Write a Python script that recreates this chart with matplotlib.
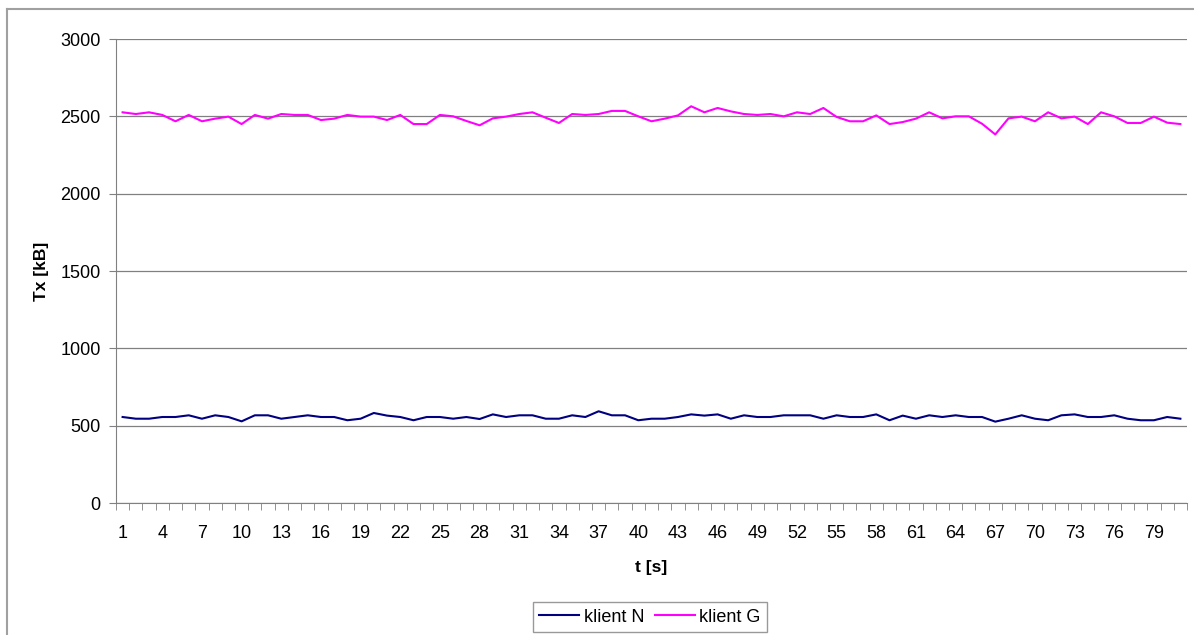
import numpy as np
import matplotlib.pyplot as plt
from matplotlib.lines import Line2D

plt.rcParams['font.family'] = ['Liberation Sans', 'DejaVu Sans']

# Tx v kB za sekundu
t = list(range(1, 82))
klient_n = [556, 545, 545, 556, 556, 567, 545, 567, 556, 528,
            567, 567, 545, 556, 567, 556, 556, 535, 545, 582,
            565, 556, 535, 556, 556, 545, 556, 543, 573, 556,
            567, 567, 545, 545, 567, 556, 593, 567, 567, 535,
            545, 545, 556, 573, 565, 573, 545, 567, 556, 556,
            567, 567, 567, 545, 567, 556, 556, 573, 535, 565,
            545, 567, 556, 567, 556, 556, 526, 545, 567, 545,
            535, 567, 573, 556, 556, 567, 545, 535, 535, 556,
            545]
klient_g = [2526, 2515, 2526, 2509, 2468, 2509, 2468, 2485, 2498, 2450,
            2509, 2485, 2515, 2509, 2509, 2476, 2485, 2509, 2498, 2498,
            2476, 2509, 2450, 2450, 2509, 2500, 2470, 2442, 2487, 2498,
            2515, 2526, 2491, 2457, 2515, 2509, 2515, 2535, 2535, 2500,
            2468, 2485, 2506, 2565, 2526, 2554, 2532, 2515, 2509, 2515,
            2500, 2526, 2515, 2554, 2496, 2468, 2468, 2506, 2450, 2463,
            2485, 2526, 2487, 2500, 2500, 2452, 2383, 2487, 2498, 2468,
            2526, 2487, 2498, 2450, 2526, 2500, 2457, 2457, 2498, 2459,
            2450]
y_ticks = [0, 500, 1000, 1500, 2000, 2500, 3000]

fig = plt.figure(figsize=(11.94, 6.35), dpi=100)
ax = fig.add_axes([116 / 1194, 1 - 503 / 635, (1187 - 116) / 1194, (503 - 39) / 635])

ax.plot(t, klient_n, color='#000080', linewidth=1.5, label='klient N')
ax.plot(t, klient_g, color='#FF00FF', linewidth=1.5, label='klient G')

ax.set_xlim(0.5, len(t) + 0.5)
ax.set_ylim(0, 3000)
ax.set_yticks(y_ticks)
ax.yaxis.grid(True, color='#808080', linewidth=0.9)
ax.set_axisbelow(True)

# popisky kategorii (kazda treti) a zarazky mezi kategoriemi
ax.set_xticks(t[::3])
ax.set_xticklabels([str(v) for v in t[::3]])
ax.set_xticks(np.arange(0.5, len(t) + 1, 1.0), minor=True)
ax.tick_params(axis='x', which='major', length=0, pad=16, labelsize=13)
ax.tick_params(axis='x', which='minor', length=5, color='#808080', direction='out')
ax.tick_params(axis='y', length=5, color='#808080', labelsize=13, pad=6)

for s in ['top', 'right']:
    ax.spines[s].set_visible(False)
for s in ['left', 'bottom']:
    ax.spines[s].set_color('#808080')

ax.set_xlabel('t [s]', fontsize=12.5, fontweight='bold', labelpad=13)
ax.set_ylabel('Tx [kB]', fontsize=12.5, fontweight='bold', labelpad=8)

leg = fig.legend(loc='center', bbox_to_anchor=(650 / 1194, 1 - 617 / 635), ncol=2,
                 frameon=True, fancybox=False, fontsize=13, handlelength=2.2,
                 handletextpad=0.25, columnspacing=0.6, borderpad=0.35)
leg.get_frame().set_edgecolor('#808080')
leg.get_frame().set_linewidth(1.0)

# ramecek oblasti grafu
fig.add_artist(Line2D([7 / 1194, 1.0], [1 - 9 / 635, 1 - 9 / 635], color='#a0a0a0', linewidth=1.5))
fig.add_artist(Line2D([7 / 1194, 7 / 1194], [0, 1 - 9 / 635], color='#a0a0a0', linewidth=1.5))

fig.savefig('out.png', dpi=100)
